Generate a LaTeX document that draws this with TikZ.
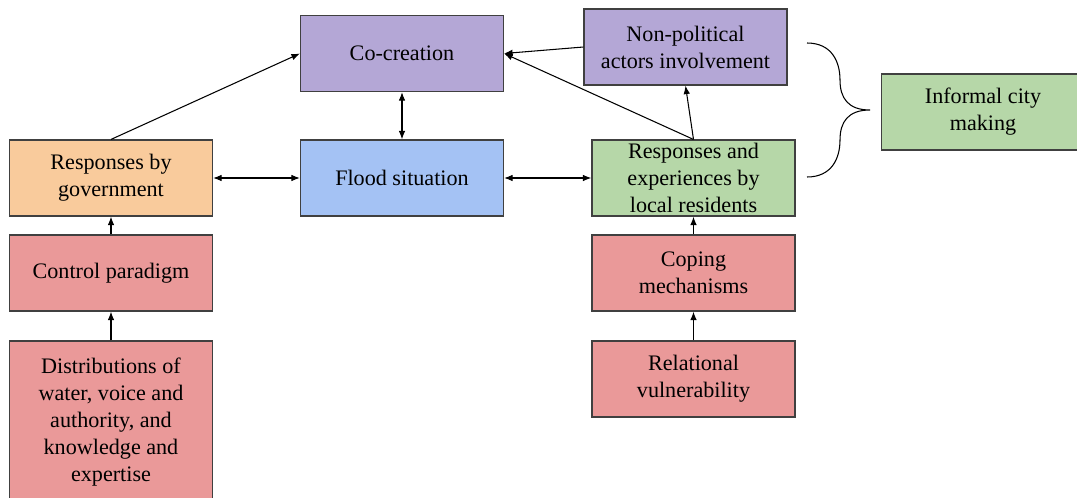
\documentclass[tikz,border=0pt]{standalone}
\usepackage{fontspec}
\setmainfont{Liberation Serif}
\usetikzlibrary{positioning,arrows.meta}
\definecolor{cpurple}{HTML}{B4A7D6}
\definecolor{cgreen}{HTML}{B6D7A8}
\definecolor{corange}{HTML}{F9CB9C}
\definecolor{cblue}{HTML}{A4C2F4}
\definecolor{cred}{HTML}{EA9999}

\begin{document}
\begin{tikzpicture}[x=0.2mm, y=-0.2mm,
  box/.style={draw=black!75, line width=0.65pt, minimum width=4.06cm, minimum height=1.52cm,
    align=center, inner sep=0pt, font=\fontsize{12.6}{15.4}\selectfont},
  arr/.style={-{Latex[length=1.7mm,width=1.3mm]}, line width=0.6pt},
  biarr/.style={{Latex[length=1.7mm,width=1.3mm]}-{Latex[length=1.7mm,width=1.3mm]}, line width=0.6pt}]
  \useasboundingbox (0,0) rectangle (1077,497);
  % top row
  \node[box, fill=cpurple] (cocreation) at (402,53.5) {Co-creation};
  \node[box, fill=cpurple] (nonpol) at (685.5,47) {Non-political\\actors involvement};
  \node[box, fill=cgreen] (informal) at (983,112) {Informal city\\making};
  % middle row
  \node[box, fill=corange] (gov) at (111,178) {Responses by\\government};
  \node[box, fill=cblue] (flood) at (402,178) {Flood situation};
  \node[box, fill=cgreen] (residents) at (693.5,178) {Responses and\\experiences by\\local residents};
  % drivers
  \node[box, fill=cred] (control) at (111,273) {Control paradigm};
  \node[box, fill=cred, minimum height=3.24cm] (distrib) at (111,422) {Distributions of\\water, voice and\\authority, and\\knowledge and\\expertise};
  \node[box, fill=cred] (coping) at (693.5,273) {Coping\\mechanisms};
  \node[box, fill=cred] (relational) at (693.5,379) {Relational\\vulnerability};
  % connectors
  \draw[arr] (gov.north) -- (cocreation.west);
  \draw[biarr] (cocreation.south) -- (flood.north);
  \draw[biarr] (gov.east) -- (flood.west);
  \draw[biarr] (flood.east) -- (residents.west);
  \draw[arr] (residents.north) -- (nonpol.south);
  \draw[arr] (residents.north) -- (cocreation.east);
  \draw[arr] (nonpol.west) -- (cocreation.east);
  \draw[arr] (control.north) -- (gov.south);
  \draw[arr] (distrib.north) -- (control.south);
  \draw[arr] (coping.north) -- (residents.south);
  \draw[arr] (relational.north) -- (coping.south);
  % brace
  \coordinate (btop) at (807,43);
  \coordinate (btip) at (870,110);
  \coordinate (bbot) at (807,177);
  \draw[line width=0.6pt] (btop) .. controls (832,43) and (840,62) .. (840,80)
    .. controls (840,98) and (848,110) .. (btip)
    .. controls (848,110) and (840,122) .. (840,140)
    .. controls (840,158) and (832,177) .. (bbot);
\end{tikzpicture}
\end{document}
